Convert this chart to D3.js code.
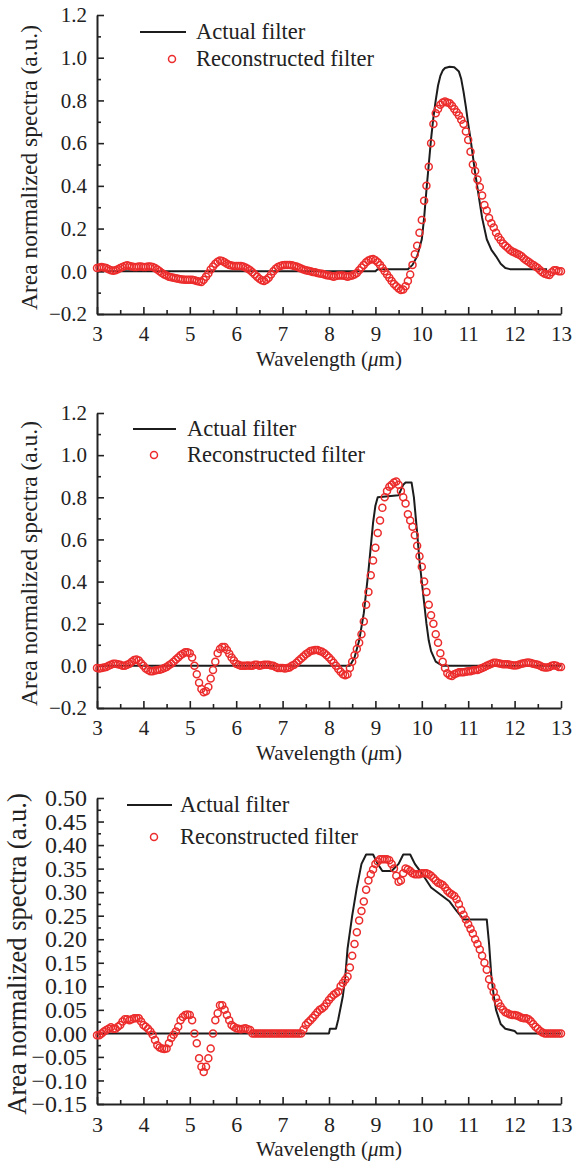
<!DOCTYPE html>
<html>
<head>
<meta charset="utf-8">
<script src="https://cdn.jsdelivr.net/npm/d3@7"></script>
<style>
  body { margin: 0; background: #fff; }
  svg { display: block; }
  .domain { stroke: #222; stroke-width: 2; }
  .tick line { stroke: #222; stroke-width: 1.6; }
</style>
</head>
<body>
<svg id="chart" width="585" height="1165"></svg>
<script>
// wavelength grid of the reconstructed spectra (3 .. 13 um)
const wl = d3.range(201).map(i => 3 + i * 0.05);

const xTicks = [3, 4, 5, 6, 7, 8, 9, 10, 11, 12, 13];
const xMinor = [3.5, 4.5, 5.5, 6.5, 7.5, 8.5, 9.5, 10.5, 11.5, 12.5];
const yTicksA = [-0.2, 0, 0.2, 0.4, 0.6, 0.8, 1.0, 1.2];
const yMinorA = [-0.1, 0.1, 0.3, 0.5, 0.7, 0.9, 1.1];
const yTicksC = [-0.15, -0.1, -0.05, 0, 0.05, 0.1, 0.15, 0.2, 0.25, 0.3, 0.35, 0.4, 0.45, 0.5];
const yMinorC = [-0.125, -0.075, -0.025, 0.025, 0.075, 0.125, 0.175, 0.225, 0.275, 0.325, 0.375, 0.425, 0.475];

// panel 1
const actual1X = [3, 9.0, 9.05, 9.7, 9.8, 9.9, 10.0, 10.05, 10.1, 10.15, 10.2, 10.25, 10.3, 10.35, 10.4, 10.45, 10.5, 10.6, 10.7, 10.8, 10.85, 10.9, 10.95, 11.0, 11.05, 11.1, 11.15, 11.2, 11.3, 11.4, 11.5, 11.6, 11.7, 11.8, 11.9, 12.7];
const actual1Y = [0, 0, 0.01, 0.01, 0.03, 0.07, 0.15, 0.25, 0.38, 0.5, 0.62, 0.72, 0.8, 0.87, 0.915, 0.94, 0.952, 0.958, 0.955, 0.935, 0.9, 0.84, 0.77, 0.69, 0.62, 0.54, 0.46, 0.39, 0.25, 0.15, 0.1, 0.07, 0.035, 0.015, 0.01, 0.01];
const recon1 = [
  0.015, 0.018, 0.02, 0.018, 0.015, 0.01, 0.005, 0.003, 0.005, 0.01,
  0.015, 0.02, 0.025, 0.028, 0.025, 0.022, 0.02, 0.02, 0.022, 0.022,
  0.02, 0.02, 0.022, 0.022, 0.02, 0.015, 0.008, 0, -0.008, -0.015,
  -0.02, -0.025, -0.028, -0.03, -0.033, -0.035, -0.037, -0.038, -0.04, -0.04,
  -0.04, -0.04, -0.042, -0.045, -0.048, -0.05, -0.04, -0.025, -0.01, 0.008,
  0.022, 0.035, 0.045, 0.05, 0.048, 0.042, 0.035, 0.03, 0.027, 0.025,
  0.025, 0.025, 0.025, 0.022, 0.018, 0.012, 0.005, -0.005, -0.015, -0.025,
  -0.035, -0.042, -0.045, -0.04, -0.03, -0.015, 0, 0.012, 0.02, 0.025,
  0.028, 0.03, 0.03, 0.03, 0.028, 0.025, 0.022, 0.018, 0.013, 0.008,
  0.005, 0.002, 0, -0.003, -0.005, -0.008, -0.01, -0.012, -0.015, -0.018,
  -0.02, -0.022, -0.025, -0.022, -0.02, -0.02, -0.02, -0.022, -0.025, -0.022,
  -0.02, -0.015, -0.008, 0.005, 0.018, 0.03, 0.042, 0.05, 0.055, 0.058,
  0.052, 0.042, 0.03, 0.015, 0, -0.015, -0.03, -0.045, -0.06, -0.07,
  -0.08, -0.088, -0.085, -0.07, -0.045, -0.015, 0.03, 0.08, 0.12, 0.18,
  0.24, 0.33, 0.4, 0.49, 0.6, 0.69, 0.74, 0.76, 0.78, 0.79,
  0.795, 0.79, 0.787, 0.775, 0.76, 0.745, 0.73, 0.71, 0.69, 0.655,
  0.615, 0.56, 0.5, 0.47, 0.43, 0.395, 0.355, 0.31, 0.285, 0.25,
  0.225, 0.205, 0.18, 0.16, 0.145, 0.13, 0.12, 0.11, 0.1, 0.093,
  0.088, 0.082, 0.077, 0.07, 0.06, 0.052, 0.045, 0.037, 0.03, 0.022,
  0.015, 0.005, -0.005, -0.012, -0.015, -0.017, -0.005, 0.005, 0.005, 0,
  0
];

// panel 2
const actual2X = [3, 8.45, 8.55, 8.65, 8.75, 8.85, 8.95, 9.0, 9.05, 9.5, 9.6, 9.65, 9.78, 9.83, 9.9, 9.95, 10.0, 10.05, 10.1, 10.15, 10.2, 10.3, 10.45, 13];
const actual2Y = [0, 0, 0.04, 0.12, 0.25, 0.45, 0.68, 0.76, 0.8, 0.81, 0.86, 0.87, 0.87, 0.8, 0.63, 0.5, 0.4, 0.3, 0.2, 0.12, 0.07, 0.02, 0, 0];
const recon2 = [
  -0.01, -0.012, -0.01, -0.008, -0.005, 0, 0.005, 0.01, 0.01, 0.008,
  0.005, 0, 0, 0.005, 0.01, 0.02, 0.028, 0.03, 0.025, 0.012,
  0, -0.012, -0.02, -0.025, -0.025, -0.022, -0.02, -0.018, -0.015, -0.01,
  -0.005, 0.003, 0.01, 0.02, 0.03, 0.04, 0.05, 0.058, 0.065, 0.065,
  0.06, 0.04, 0, -0.04, -0.08, -0.11, -0.125, -0.12, -0.1, -0.06,
  -0.02, 0.02, 0.06, 0.08, 0.09, 0.09, 0.075, 0.058, 0.04, 0.025,
  0.01, 0.005, 0, 0, 0, 0.002, 0, 0, 0.005, 0.005,
  0, 0.003, 0.005, 0.005, 0.005, 0.002, 0, -0.005, -0.01, -0.01,
  -0.01, -0.012, -0.01, -0.008, 0, 0.005, 0.015, 0.025, 0.035, 0.045,
  0.055, 0.062, 0.07, 0.073, 0.075, 0.075, 0.07, 0.067, 0.06, 0.05,
  0.04, 0.028, 0.015, 0, -0.015, -0.028, -0.04, -0.045, -0.04, -0.01,
  0.02, 0.05, 0.08, 0.11, 0.15, 0.21, 0.29, 0.35, 0.43, 0.5,
  0.56, 0.63, 0.69, 0.75, 0.8, 0.83, 0.85, 0.86, 0.87, 0.875,
  0.86, 0.83, 0.8, 0.77, 0.72, 0.69, 0.66, 0.62, 0.57, 0.52,
  0.47, 0.4, 0.35, 0.29, 0.24, 0.2, 0.15, 0.11, 0.06, 0.02,
  -0.01, -0.035, -0.045, -0.048, -0.04, -0.035, -0.03, -0.03, -0.03, -0.028,
  -0.025, -0.025, -0.022, -0.02, -0.02, -0.015, -0.01, -0.005, 0, 0.005,
  0.01, 0.015, 0.015, 0.012, 0.01, 0.008, 0.008, 0.008, 0.005, 0.003,
  0.002, 0.003, 0.006, 0.01, 0.012, 0.015, 0.016, 0.014, 0.01, 0.008,
  0.005, 0, -0.005, -0.008, -0.008, -0.005, 0, 0.003, 0, -0.005,
  -0.005
];

// panel 3
const actual3X = [3, 8.0, 8.02, 8.15, 8.2, 8.3, 8.35, 8.4, 8.5, 8.6, 8.7, 8.8, 8.95, 9.05, 9.15, 9.35, 9.5, 9.6, 9.75, 9.85, 10.0, 10.2, 10.4, 10.6, 10.75, 10.9, 11.4, 11.45, 11.5, 11.55, 11.6, 11.7, 11.8, 12.0, 12.05, 13];
const actual3Y = [0, 0, 0.01, 0.01, 0.03, 0.08, 0.12, 0.18, 0.25, 0.31, 0.36, 0.38, 0.38, 0.36, 0.345, 0.345, 0.36, 0.38, 0.38, 0.36, 0.34, 0.31, 0.295, 0.28, 0.26, 0.242, 0.242, 0.19, 0.12, 0.08, 0.05, 0.02, 0.01, 0.005, 0, 0];
const recon3 = [
  -0.004, -0.004, 0, 0.004, 0.007, 0.01, 0.013, 0.01, 0.01, 0.014,
  0.018, 0.025, 0.03, 0.03, 0.028, 0.03, 0.032, 0.032, 0.032, 0.025,
  0.018, 0.014, 0.01, 0.004, -0.003, -0.014, -0.025, -0.03, -0.032, -0.033,
  -0.032, -0.021, -0.01, -0.003, 0.004, 0.014, 0.028, 0.035, 0.039, 0.04,
  0.039, 0.028, 0, -0.021, -0.053, -0.071, -0.082, -0.071, -0.053, -0.032,
  0, 0.028, 0.043, 0.06, 0.06, 0.05, 0.039, 0.028, 0.018, 0.014,
  0.011, 0.01, 0.009, 0.01, 0.011, 0.009, 0.007, 0, 0, 0,
  0, 0, 0, 0, 0, 0, 0, 0, 0, 0,
  0, 0, 0, 0, 0, 0, 0, 0, 0, 0.008,
  0.018, 0.023, 0.028, 0.033, 0.039, 0.045, 0.05, 0.053, 0.057, 0.064,
  0.071, 0.077, 0.082, 0.085, 0.089, 0.1, 0.107, 0.114, 0.121, 0.14,
  0.165, 0.19, 0.215, 0.24, 0.26, 0.28, 0.305, 0.325, 0.338, 0.348,
  0.36, 0.365, 0.37, 0.37, 0.37, 0.37, 0.368, 0.36, 0.35, 0.335,
  0.322, 0.325, 0.34, 0.35, 0.348, 0.345, 0.34, 0.338, 0.338, 0.338,
  0.34, 0.34, 0.34, 0.338, 0.335, 0.33, 0.325, 0.32, 0.318, 0.315,
  0.31, 0.303, 0.298, 0.295, 0.292, 0.285, 0.275, 0.262, 0.252, 0.242,
  0.232, 0.222, 0.212, 0.2, 0.19, 0.178, 0.165, 0.15, 0.135, 0.115,
  0.1, 0.088, 0.075, 0.065, 0.057, 0.05, 0.045, 0.043, 0.04, 0.039,
  0.039, 0.038, 0.036, 0.033, 0.032, 0.032, 0.03, 0.026, 0.02, 0.014,
  0.01, 0.005, 0.002, 0, 0, 0, 0, 0, 0, 0,
  0
];

const legendLabels = ["Actual filter", "Reconstructed filter"];
const yTitle = "Area normalized spectra (a.u.)";

const RED = "#ec2c2c";
const INK = "#1c1c1c";
const FONT = "'Liberation Serif', 'Times New Roman', serif";

const panels = [
  { ax: actual1X, ay: actual1Y, recon: recon1, dom: [-0.2, 1.2], ticks: yTicksA, minor: yMinorA, fmt: d3.format(".1f"),
    top: 15, bottom: 314, tickFont: 21, xTickFont: 21, titleX: 37, titleFont: 23.5,
    leg: { x1: 140, x2: 186, y1: 32, y2: 59, mx: 172, tx: 196 } },
  { ax: actual2X, ay: actual2Y, recon: recon2, dom: [-0.2, 1.2], ticks: yTicksA, minor: yMinorA, fmt: d3.format(".1f"),
    top: 413, bottom: 708, tickFont: 21, xTickFont: 21, titleX: 37, titleFont: 23.5,
    leg: { x1: 133, x2: 176, y1: 429, y2: 455, mx: 154, tx: 187 } },
  { ax: actual3X, ay: actual3Y, recon: recon3, dom: [-0.15, 0.5], ticks: yTicksC, minor: yMinorC, fmt: d3.format(".2f"),
    top: 798, bottom: 1104, tickFont: 24, xTickFont: 22, titleX: 26, titleFont: 26.5,
    leg: { x1: 127, x2: 172, y1: 805, y2: 837, mx: 154, tx: 180 } }
];

const svg = d3.select("#chart");
const left = 97, right = 561;

panels.forEach(p => {
  const g = svg.append("g");
  const x = d3.scaleLinear().domain([3, 13]).range([left, right]);
  const y = d3.scaleLinear().domain(p.dom).range([p.bottom, p.top]);

  // minor ticks first, then the major axis
  g.append("g").attr("transform", `translate(0,${p.bottom})`)
    .call(d3.axisBottom(x).tickValues(xMinor).tickSize(-4).tickFormat(""))
    .call(a => a.select(".domain").remove());
  g.append("g").attr("transform", `translate(${left},0)`)
    .call(d3.axisLeft(y).tickValues(p.minor).tickSize(-4).tickFormat(""))
    .call(a => a.select(".domain").remove());

  const xa = g.append("g").attr("transform", `translate(0,${p.bottom})`)
    .call(d3.axisBottom(x).tickValues(xTicks).tickSizeInner(-7).tickSizeOuter(0).tickPadding(12));
  const ya = g.append("g").attr("transform", `translate(${left},0)`)
    .call(d3.axisLeft(y).tickValues(p.ticks).tickFormat(p.fmt).tickSizeInner(-7).tickSizeOuter(0).tickPadding(10));
  xa.selectAll("text").style("font-family", FONT).style("font-size", p.xTickFont + "px").style("fill", "#222");
  ya.selectAll("text").style("font-family", FONT).style("font-size", p.tickFont + "px").style("fill", "#222");

  // actual filter
  const line = d3.line().x(d => x(d[0])).y(d => y(d[1]));
  g.append("path")
    .datum(p.ax.map((v, i) => [v, p.ay[i]]))
    .attr("d", line)
    .attr("fill", "none")
    .attr("stroke", INK)
    .attr("stroke-width", 2)
    .attr("stroke-linejoin", "round");

  // reconstructed filter
  g.append("g").selectAll("circle")
    .data(wl.map((w, i) => [w, p.recon[i]]))
    .enter()
    .append("circle")
    .attr("cx", d => x(d[0]))
    .attr("cy", d => y(d[1]))
    .attr("r", 3.5)
    .attr("fill", "none")
    .attr("stroke", RED)
    .attr("stroke-width", 1.5);

  // legend
  const L = p.leg;
  g.append("line").attr("x1", L.x1).attr("x2", L.x2).attr("y1", L.y1).attr("y2", L.y1)
    .attr("stroke", INK).attr("stroke-width", 2.2);
  g.append("circle").attr("cx", L.mx).attr("cy", L.y2).attr("r", 3.5)
    .attr("fill", "none").attr("stroke", RED).attr("stroke-width", 1.5);
  [[L.y1, legendLabels[0]], [L.y2, legendLabels[1]]].forEach(([ty, label]) => {
    g.append("text").attr("x", L.tx).attr("y", ty).attr("dy", "0.33em")
      .style("font-family", FONT).style("font-size", "22.5px").style("fill", "#222")
      .text(label);
  });

  // axis titles
  g.append("text")
    .attr("transform", `translate(${p.titleX},${(p.top + p.bottom) / 2 + 3}) rotate(-90)`)
    .attr("text-anchor", "middle")
    .style("font-family", FONT)
    .style("font-size", p.titleFont + "px")
    .style("fill", "#222")
    .text(yTitle);
  const xt = g.append("text")
    .attr("x", (left + right) / 2)
    .attr("y", p.bottom + 52)
    .attr("text-anchor", "middle")
    .style("font-family", FONT)
    .style("font-size", "21px")
    .style("fill", "#222");
  xt.append("tspan").text("Wavelength (");
  xt.append("tspan").style("font-style", "italic").text("\u03bc");
  xt.append("tspan").text("m)");
});
</script>
</body>
</html>
